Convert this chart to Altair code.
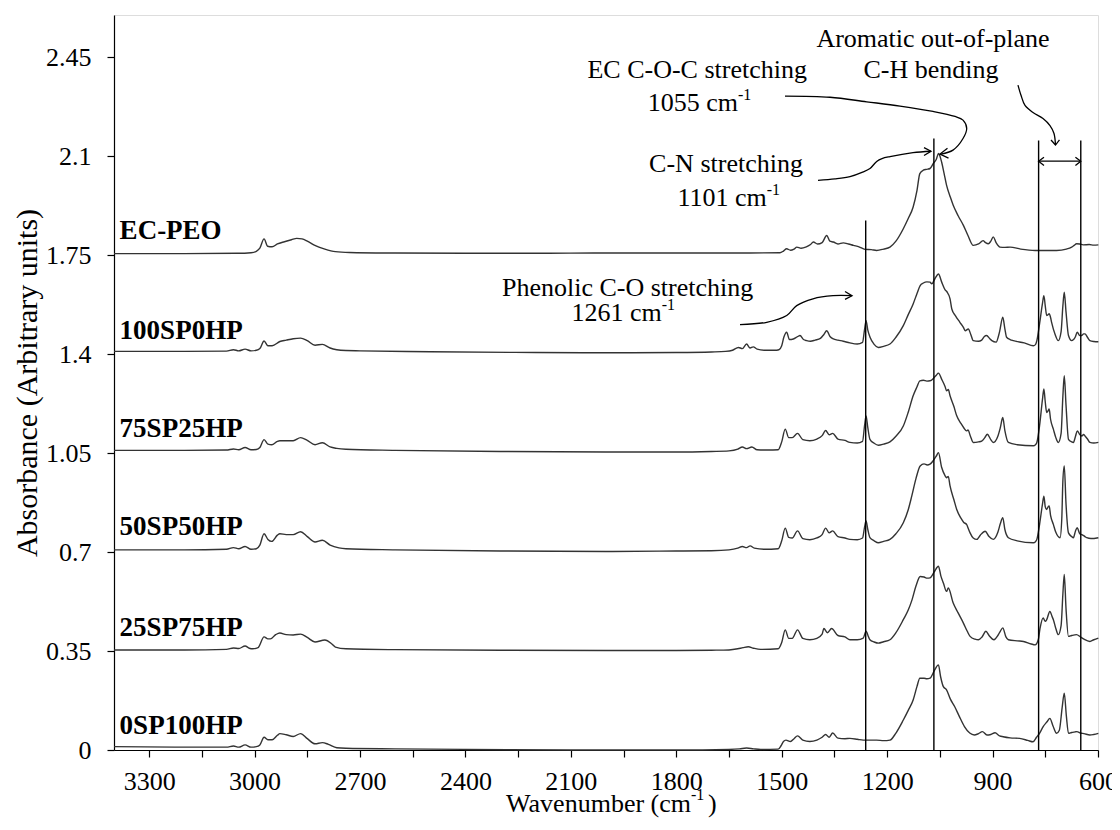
import altair as alt
import pandas as pd

# ---------------- data ----------------
SERIES = ["EC-PEO", "100SP0HP", "75SP25HP", "50SP50HP", "25SP75HP", "0SP100HP"]
OFFSETS = [1.75, 1.4, 1.05, 0.7, 0.35, 0.0]
LABEL_Y = [1.806, 1.454, 1.108, 0.760, 0.404, 0.056]
LABEL_W = 3384

# (wavenumber, absorbance above the series offset)
EC_PEO = [(3400, 0.006), (3200, 0.006), (3050, 0.007), (3010, 0.009), (2995, 0.014), (2985, 0.025),
          (2973, 0.058), (2963, 0.032), (2950, 0.030), (2935, 0.040), (2915, 0.048), (2895, 0.055),
          (2880, 0.060), (2865, 0.058), (2850, 0.050), (2830, 0.036), (2800, 0.022), (2770, 0.013),
          (2730, 0.010), (2600, 0.008), (2400, 0.007), (2200, 0.007), (2000, 0.008), (1800, 0.008),
          (1600, 0.008), (1505, 0.009), (1495, 0.015), (1486, 0.023), (1475, 0.018), (1465, 0.022),
          (1457, 0.029), (1445, 0.025), (1430, 0.030), (1418, 0.038), (1410, 0.047), (1398, 0.040),
          (1385, 0.045), (1372, 0.070), (1363, 0.050), (1353, 0.047), (1340, 0.040), (1325, 0.044),
          (1310, 0.040), (1296, 0.035), (1280, 0.030), (1263, 0.021), (1245, 0.020), (1230, 0.017),
          (1210, 0.022), (1192, 0.029), (1175, 0.050), (1154, 0.094), (1140, 0.130), (1126, 0.171),
          (1115, 0.230), (1107, 0.289), (1097, 0.301), (1088, 0.304), (1078, 0.307), (1069, 0.324),
          (1060, 0.340), (1054, 0.360), (1049, 0.348), (1045, 0.330), (1038, 0.290), (1031, 0.248),
          (1020, 0.205), (1012, 0.177), (998, 0.140), (983, 0.106), (970, 0.070), (955, 0.035),
          (940, 0.040), (927, 0.052), (920, 0.045), (912, 0.041), (905, 0.050), (898, 0.065),
          (890, 0.045), (879, 0.029), (865, 0.028), (850, 0.029), (820, 0.022), (779, 0.017),
          (750, 0.017), (718, 0.017), (690, 0.022), (675, 0.029), (668, 0.035), (661, 0.041),
          (652, 0.040), (642, 0.037), (625, 0.038), (612, 0.036), (599, 0.037)]

SP100_HP0 = [(3400, 0.010), (3200, 0.010), (3080, 0.011), (3060, 0.016), (3045, 0.012), (3027, 0.018),
             (3010, 0.012), (2995, 0.014), (2985, 0.020), (2973, 0.047), (2962, 0.030), (2950, 0.030),
             (2928, 0.045), (2910, 0.050), (2890, 0.055), (2869, 0.057), (2850, 0.048), (2828, 0.032),
             (2807, 0.035), (2785, 0.022), (2766, 0.016), (2740, 0.013), (2700, 0.012), (2500, 0.009),
             (2200, 0.006), (2000, 0.005), (1800, 0.006), (1700, 0.008), (1660, 0.010), (1640, 0.014),
             (1623, 0.024), (1612, 0.020), (1600, 0.036), (1590, 0.022), (1581, 0.026), (1570, 0.018),
             (1550, 0.014), (1520, 0.014), (1508, 0.016), (1500, 0.030), (1494, 0.060), (1486, 0.078),
             (1478, 0.052), (1467, 0.054), (1455, 0.062), (1448, 0.066), (1438, 0.052), (1429, 0.048),
             (1418, 0.046), (1405, 0.050), (1390, 0.056), (1380, 0.070), (1372, 0.083), (1362, 0.062),
             (1353, 0.054), (1340, 0.050), (1325, 0.046), (1306, 0.040), (1285, 0.036), (1270, 0.042),
             (1264, 0.090), (1260, 0.119), (1255, 0.085), (1249, 0.061), (1237, 0.035), (1225, 0.024),
             (1210, 0.028), (1192, 0.036), (1175, 0.060), (1154, 0.101), (1140, 0.140), (1126, 0.178),
             (1115, 0.215), (1106, 0.243), (1097, 0.252), (1087, 0.256), (1078, 0.255), (1073, 0.249),
             (1064, 0.267), (1054, 0.284), (1045, 0.256), (1035, 0.228), (1030, 0.221), (1021, 0.196),
             (1016, 0.160), (1005, 0.135), (993, 0.113), (983, 0.095), (978, 0.083), (969, 0.089),
             (962, 0.070), (955, 0.048), (940, 0.046), (931, 0.050), (924, 0.062), (917, 0.066),
             (908, 0.055), (902, 0.048), (890, 0.043), (880, 0.080), (871, 0.131), (865, 0.090),
             (860, 0.060), (850, 0.052), (841, 0.048), (810, 0.040), (784, 0.030), (778, 0.034),
             (774, 0.048), (766, 0.110), (758, 0.180), (754, 0.207), (750, 0.170), (746, 0.137),
             (742, 0.140), (739, 0.143), (735, 0.130), (732, 0.113), (722, 0.070), (713, 0.048),
             (705, 0.080), (700, 0.170), (696, 0.219), (691, 0.150), (684, 0.066), (675, 0.048),
             (665, 0.060), (659, 0.078), (652, 0.066), (646, 0.066), (641, 0.072), (637, 0.072),
             (630, 0.060), (623, 0.048), (612, 0.045), (599, 0.044)]

SP75_HP25 = [(3400, 0.010), (3200, 0.010), (3080, 0.011), (3060, 0.015), (3045, 0.012), (3027, 0.020),
             (3010, 0.012), (2995, 0.013), (2985, 0.020), (2973, 0.048), (2962, 0.032), (2951, 0.030),
             (2935, 0.042), (2928, 0.044), (2910, 0.044), (2890, 0.044), (2869, 0.055), (2850, 0.045),
             (2828, 0.030), (2807, 0.037), (2785, 0.022), (2766, 0.017), (2740, 0.014), (2600, 0.010),
             (2300, 0.006), (2000, 0.004), (1800, 0.004), (1700, 0.006), (1650, 0.008), (1625, 0.014),
             (1612, 0.022), (1600, 0.016), (1585, 0.022), (1570, 0.012), (1540, 0.011), (1510, 0.012),
             (1500, 0.040), (1490, 0.085), (1480, 0.055), (1470, 0.055), (1455, 0.070), (1440, 0.048),
             (1420, 0.044), (1400, 0.050), (1385, 0.062), (1375, 0.080), (1365, 0.065), (1355, 0.070),
             (1340, 0.050), (1320, 0.045), (1306, 0.038), (1285, 0.036), (1270, 0.042), (1264, 0.100),
             (1260, 0.132), (1255, 0.090), (1249, 0.049), (1237, 0.035), (1225, 0.028), (1210, 0.032),
             (1192, 0.040), (1175, 0.060), (1154, 0.096), (1140, 0.145), (1126, 0.203), (1115, 0.235),
             (1107, 0.256), (1097, 0.258), (1087, 0.255), (1078, 0.256), (1068, 0.265), (1060, 0.276),
             (1054, 0.283), (1045, 0.262), (1035, 0.235), (1031, 0.221), (1026, 0.225), (1021, 0.203),
             (1010, 0.165), (1002, 0.132), (990, 0.105), (982, 0.090), (974, 0.079), (970, 0.082),
             (963, 0.060), (955, 0.038), (940, 0.040), (931, 0.043), (922, 0.055), (915, 0.067),
             (905, 0.048), (898, 0.038), (885, 0.060), (878, 0.090), (871, 0.126), (865, 0.080),
             (855, 0.038), (830, 0.030), (784, 0.026), (778, 0.030), (774, 0.038), (766, 0.100),
             (758, 0.190), (754, 0.227), (750, 0.180), (746, 0.144), (742, 0.150), (739, 0.156),
             (735, 0.120), (727, 0.085), (720, 0.055), (713, 0.038), (705, 0.070), (700, 0.200),
             (696, 0.274), (691, 0.170), (684, 0.049), (675, 0.040), (670, 0.038), (664, 0.060),
             (659, 0.079), (652, 0.066), (646, 0.061), (641, 0.066), (637, 0.061), (630, 0.050),
             (623, 0.038), (612, 0.036), (599, 0.038)]

SP50_HP50 = [(3400, 0.008), (3200, 0.008), (3080, 0.010), (3060, 0.016), (3045, 0.012), (3027, 0.020),
             (3010, 0.010), (2995, 0.012), (2985, 0.025), (2973, 0.065), (2962, 0.045), (2951, 0.038),
             (2935, 0.060), (2928, 0.065), (2910, 0.062), (2890, 0.062), (2869, 0.072), (2850, 0.055),
             (2828, 0.036), (2807, 0.042), (2785, 0.025), (2760, 0.015), (2740, 0.012), (2600, 0.008),
             (2300, 0.004), (2000, 0.002), (1800, 0.004), (1700, 0.005), (1650, 0.008), (1625, 0.014),
             (1612, 0.020), (1600, 0.016), (1590, 0.022), (1578, 0.014), (1550, 0.010), (1510, 0.012),
             (1500, 0.040), (1490, 0.085), (1480, 0.052), (1470, 0.050), (1455, 0.075), (1440, 0.048),
             (1420, 0.044), (1400, 0.050), (1385, 0.062), (1375, 0.085), (1365, 0.068), (1355, 0.075),
             (1340, 0.055), (1320, 0.050), (1306, 0.045), (1285, 0.044), (1270, 0.050), (1264, 0.090),
             (1260, 0.110), (1255, 0.080), (1249, 0.051), (1237, 0.040), (1225, 0.033), (1210, 0.038),
             (1192, 0.045), (1175, 0.065), (1154, 0.104), (1140, 0.150), (1130, 0.198), (1118, 0.260),
             (1106, 0.305), (1095, 0.312), (1086, 0.308), (1078, 0.311), (1068, 0.325), (1060, 0.340),
             (1054, 0.352), (1045, 0.300), (1035, 0.270), (1031, 0.263), (1026, 0.268), (1021, 0.234),
             (1010, 0.185), (1002, 0.151), (990, 0.120), (982, 0.105), (974, 0.098), (968, 0.080),
             (964, 0.068), (955, 0.050), (945, 0.045), (935, 0.060), (921, 0.074), (910, 0.055),
             (898, 0.045), (885, 0.070), (878, 0.100), (871, 0.122), (865, 0.080), (855, 0.051),
             (830, 0.040), (784, 0.033), (778, 0.037), (774, 0.045), (766, 0.100), (758, 0.170),
             (754, 0.198), (750, 0.160), (746, 0.151), (742, 0.160), (739, 0.163), (735, 0.130),
             (727, 0.098), (720, 0.070), (708, 0.051), (703, 0.120), (700, 0.250), (696, 0.305),
             (691, 0.170), (684, 0.068), (675, 0.055), (670, 0.051), (664, 0.075), (659, 0.086),
             (652, 0.065), (646, 0.062), (637, 0.055), (632, 0.051), (620, 0.048), (599, 0.051)]

SP25_HP75 = [(3400, 0.004), (3200, 0.004), (3080, 0.006), (3060, 0.011), (3045, 0.009), (3027, 0.018),
             (3015, 0.010), (3005, 0.008), (2990, 0.012), (2973, 0.050), (2962, 0.043), (2955, 0.043),
             (2940, 0.058), (2928, 0.064), (2910, 0.058), (2890, 0.057), (2869, 0.060), (2850, 0.048),
             (2828, 0.032), (2800, 0.039), (2780, 0.025), (2770, 0.014), (2740, 0.008), (2600, 0.005),
             (2300, 0.003), (2000, 0.002), (1800, 0.002), (1700, 0.003), (1650, 0.004), (1625, 0.008),
             (1610, 0.012), (1595, 0.015), (1580, 0.010), (1560, 0.006), (1510, 0.008), (1500, 0.030),
             (1490, 0.075), (1480, 0.045), (1470, 0.045), (1455, 0.075), (1440, 0.045), (1420, 0.040),
             (1400, 0.045), (1385, 0.060), (1380, 0.080), (1370, 0.065), (1358, 0.080), (1340, 0.055),
             (1320, 0.050), (1306, 0.040), (1285, 0.040), (1268, 0.046), (1260, 0.070), (1253, 0.050),
             (1249, 0.040), (1237, 0.032), (1225, 0.028), (1210, 0.033), (1192, 0.040), (1175, 0.065),
             (1154, 0.111), (1140, 0.145), (1129, 0.182), (1118, 0.230), (1106, 0.264), (1095, 0.262),
             (1086, 0.258), (1078, 0.259), (1066, 0.280), (1054, 0.300), (1047, 0.265), (1040, 0.241),
             (1031, 0.211), (1026, 0.223), (1012, 0.170), (998, 0.135), (983, 0.099), (972, 0.070),
             (964, 0.052), (950, 0.042), (940, 0.040), (930, 0.050), (919, 0.070), (910, 0.055),
             (896, 0.040), (885, 0.055), (878, 0.070), (871, 0.082), (862, 0.050), (855, 0.040),
             (830, 0.036), (812, 0.034), (790, 0.025), (779, 0.022), (770, 0.040), (765, 0.080),
             (756, 0.117), (750, 0.105), (746, 0.111), (737, 0.140), (730, 0.120), (727, 0.111),
             (720, 0.080), (713, 0.058), (705, 0.090), (700, 0.200), (696, 0.271), (691, 0.150),
             (684, 0.052), (675, 0.055), (661, 0.058), (650, 0.050), (640, 0.042), (623, 0.034),
             (612, 0.040), (599, 0.046)]

SP0_HP100 = [(3400, 0.012), (3200, 0.010), (3100, 0.010), (3080, 0.010), (3060, 0.014), (3045, 0.010),
             (3027, 0.018), (3010, 0.010), (2995, 0.012), (2985, 0.018), (2973, 0.045), (2962, 0.036),
             (2950, 0.036), (2935, 0.052), (2928, 0.058), (2910, 0.054), (2890, 0.048), (2869, 0.058),
             (2850, 0.040), (2828, 0.022), (2807, 0.026), (2790, 0.020), (2766, 0.008), (2740, 0.006),
             (2600, 0.004), (2400, 0.002), (2100, 0.000), (1800, 0.000), (1650, 0.002), (1620, 0.004),
             (1600, 0.007), (1580, 0.004), (1560, 0.002), (1510, 0.003), (1502, 0.015), (1495, 0.030),
             (1488, 0.035), (1475, 0.030), (1465, 0.040), (1455, 0.050), (1440, 0.035), (1420, 0.030),
             (1400, 0.035), (1385, 0.045), (1375, 0.055), (1365, 0.045), (1355, 0.060), (1340, 0.042),
             (1320, 0.040), (1306, 0.041), (1285, 0.038), (1268, 0.035), (1250, 0.035), (1230, 0.035),
             (1210, 0.033), (1192, 0.035), (1175, 0.060), (1154, 0.106), (1140, 0.140), (1126, 0.177),
             (1115, 0.225), (1107, 0.254), (1095, 0.254), (1087, 0.252), (1078, 0.254), (1066, 0.280),
             (1054, 0.301), (1048, 0.260), (1040, 0.224), (1031, 0.213), (1020, 0.180), (1008, 0.154),
             (995, 0.120), (980, 0.083), (965, 0.060), (952, 0.053), (940, 0.058), (929, 0.065),
             (916, 0.053), (905, 0.055), (893, 0.061), (880, 0.050), (870, 0.047), (850, 0.043),
             (823, 0.041), (800, 0.034), (785, 0.029), (775, 0.045), (766, 0.060), (756, 0.083),
             (745, 0.100), (737, 0.112), (728, 0.085), (718, 0.059), (710, 0.070), (702, 0.150),
             (696, 0.201), (690, 0.120), (684, 0.059), (675, 0.062), (665, 0.064), (660, 0.065),
             (650, 0.060), (640, 0.058), (623, 0.053), (612, 0.055), (599, 0.059)]

SPECTRA = [EC_PEO, SP100_HP0, SP75_HP25, SP50_HP50, SP25_HP75, SP0_HP100]

# marker lines (wavenumber, top)
RULE_W = [1261, 1067, 769, 649]
RULE_TOP = [1.873, 2.163, 2.156, 2.156]

# annotation arrows, in (wavenumber, absorbance)
ARROWS = {
    "coc": [(1490.7, 2.313), (1362.6, 2.309), (1258.2, 2.293), (1163.4, 2.278), (1069.5, 2.259),
            (1006.9, 2.241), (984.1, 2.228), (973.6, 2.199), (984.1, 2.163), (1012.6, 2.122),
            (1046.8, 2.108)],
    "cn": [(1396.7, 2.015), (1348.4, 2.020), (1305.7, 2.028), (1271.6, 2.043), (1248.8, 2.057),
           (1229.7, 2.082), (1214.6, 2.092), (1191.9, 2.099), (1126.4, 2.113), (1075.2, 2.118)],
    "phen": [(1618.7, 1.505), (1542.7, 1.513), (1485.8, 1.537), (1457.4, 1.572), (1411.0, 1.596),
             (1354.1, 1.607), (1300.0, 1.607)],
    "arom": [(827.7, 2.352), (819.1, 2.316), (807.7, 2.280), (785.0, 2.255), (756.5, 2.234),
             (736.6, 2.209), (725.2, 2.181), (721.0, 2.140)],
}
HEADS = {
    "coc_h": [(1028.3, 2.129), (1049.6, 2.108), (1025.4, 2.094)],
    "cn_h": [(1095.1, 2.131), (1075.2, 2.118), (1095.1, 2.103)],
    "phen_h": [(1319.9, 1.622), (1300.0, 1.607), (1319.9, 1.594)],
    "arom_h": [(733.7, 2.158), (721.0, 2.140), (709.6, 2.158)],
    "dbl": [(769, 2.083), (649, 2.083)],
    "dbl_l": [(753.7, 2.097), (769, 2.083), (753.7, 2.068)],
    "dbl_r": [(664.3, 2.097), (649, 2.083), (664.3, 2.068)],
}

TEXT_CENTER = [("Aromatic  out-of-plane", 1069.5, 2.488), ("C-H bending", 1075.2, 2.376),
               ("C-N stretching", 1658.5, 2.043)]
TEXT_RIGHT = [("EC C-O-C stretching", 1428.1, 2.376), ("1055 cm", 1624.4, 2.259),
              ("1101 cm", 1542.7, 1.924), ("Phenolic C-O stretching", 1580.9, 1.606),
              ("1261 cm", 1841.5, 1.519)]
SUPERS = [("-1", 1624.4, 2.259), ("-1", 1542.7, 1.924), ("-1", 1841.5, 1.519)]
X_TITLE = [("Wavenumber  (cm", 1758.1, -0.2199)]
X_TITLE_SUP = [("-1", 1758.1, -0.2199)]
CLOSE_PAREN = [(")", 1710.0, -0.2199)]

X_TICKS = list(range(3300, 599, -150))
Y_TICKS = [0, 0.35, 0.7, 1.05, 1.4, 1.75, 2.1, 2.45]

# ---------------- build tables ----------------
rows = []
for name, off, spec in zip(SERIES, OFFSETS, SPECTRA):
    for i, (w, a) in enumerate(spec):
        rows.append({"series": name, "i": i, "w": w, "v": round(a + off, 4)})
spec_df = pd.DataFrame(rows)

rules_df = pd.DataFrame({"w": RULE_W, "v": [0] * len(RULE_W), "v2": RULE_TOP})

arr_rows = []
for k, pts in ARROWS.items():
    for i, (w, v) in enumerate(pts):
        arr_rows.append({"id": k, "i": i, "w": w, "v": v})
arr_df = pd.DataFrame(arr_rows)
head_rows = []
for k, pts in HEADS.items():
    for i, (w, v) in enumerate(pts):
        head_rows.append({"id": k, "i": i, "w": w, "v": v})
head_df = pd.DataFrame(head_rows)

lab_df = pd.DataFrame({"label": SERIES, "w": [LABEL_W] * len(SERIES), "v": LABEL_Y})


def tdf(items):
    return pd.DataFrame(items, columns=["t", "w", "v"])


FONT = "Liberation Serif"
XS = alt.Scale(domain=[600, 3400], reverse=True, nice=False, zero=False)
YS = alt.Scale(domain=[0, 2.6], nice=False, zero=False)

x_axis = alt.Axis(values=X_TICKS, labelExpr="datum.value % 300 == 0 ? format(datum.value, 'd') : ''",
                  title=None, grid=False, tickSize=7, labelPadding=11, labelFontSize=26,
                  labelFont=FONT, labelColor="#000", labelFlush=False, labelOverlap=False,
                  domainColor="#000", tickColor="#000", domainWidth=1.2, tickWidth=1.2)
y_axis = alt.Axis(values=Y_TICKS, labelExpr="format(datum.value, '.3~g')",
                  title="Absorbance (Arbitrary units)",
                  grid=False, tickSize=7, labelPadding=16, labelFontSize=26, labelFont=FONT,
                  labelColor="#000", labelFlush=False, labelOverlap=False,
                  domainColor="#000", tickColor="#000", domainWidth=1.2, tickWidth=1.2,
                  titleFont=FONT, titleFontSize=30, titleFontWeight="normal", titleColor="#000",
                  titleX=-87, titleY=367.5, titleAngle=270, titleAlign="center",
                  titleBaseline="middle")

X = alt.X("w:Q", scale=XS, axis=x_axis)
Y = alt.Y("v:Q", scale=YS, axis=y_axis)

spectra = alt.Chart(spec_df).mark_line(color="#333", strokeWidth=1.4, interpolate="monotone").encode(
    x=X, y=Y, detail="series:N", order="i:Q")

rules = alt.Chart(rules_df).mark_rule(color="#000", strokeWidth=1.4).encode(x=X, y=Y, y2="v2:Q")

arrows = alt.Chart(arr_df).mark_line(color="#000", strokeWidth=1.3, interpolate="catmull-rom").encode(
    x=X, y=Y, detail="id:N", order="i:Q")
heads = alt.Chart(head_df).mark_line(color="#000", strokeWidth=1.3).encode(
    x=X, y=Y, detail="id:N", order="i:Q")

labels = alt.Chart(lab_df).mark_text(font=FONT, fontSize=27, fontWeight="bold", align="left",
                                     baseline="alphabetic", color="#000").encode(
    x=X, y=Y, text="label:N")


def texts(items, align, size=26, dy=0):
    return alt.Chart(tdf(items)).mark_text(font=FONT, fontSize=size, align=align, baseline="alphabetic",
                                           color="#000", dy=dy).encode(
        x=X, y=Y, text="t:N")


chart = alt.layer(
    spectra, rules, arrows, heads, labels,
    texts(TEXT_CENTER, "center"), texts(TEXT_RIGHT, "right"),
    texts(SUPERS, "left", size=16, dy=-11),
    texts(X_TITLE, "right", size=26), texts(X_TITLE_SUP, "left", size=16, dy=-12),
    texts(CLOSE_PAREN, "left", size=26),
).properties(
    width=984, height=735,
    autosize=alt.AutoSizeParams(type="none"),
    padding={"left": 106, "top": 7, "right": 14, "bottom": 68},
).configure_view(stroke="#000", strokeWidth=1.2).configure(background="#ffffff")

chart.save("out.html", embed_options={"renderer": "svg", "actions": False})
